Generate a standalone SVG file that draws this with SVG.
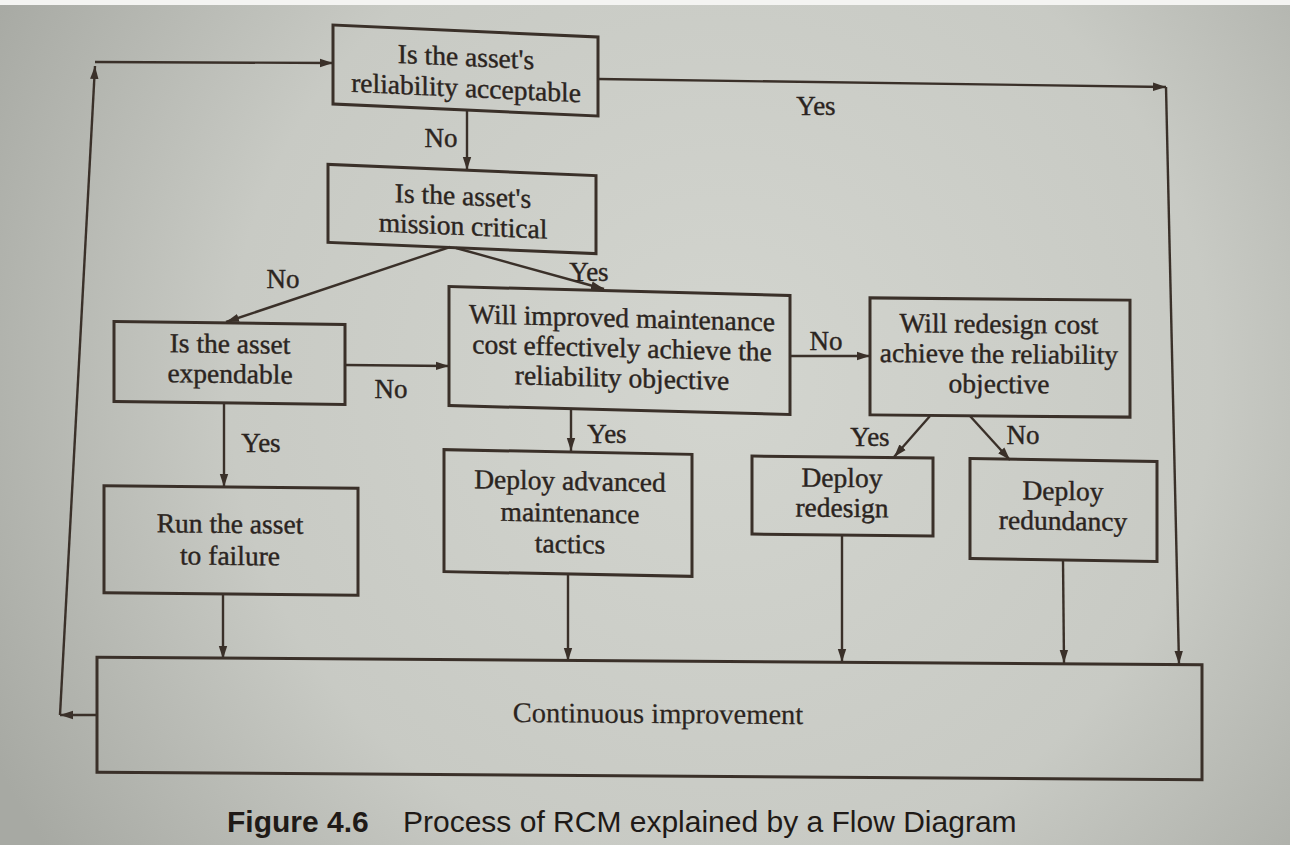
<svg xmlns="http://www.w3.org/2000/svg" width="1290" height="845" viewBox="0 0 1290 845">
  <defs>
    <radialGradient id="paper" cx="720" cy="380" r="820" gradientUnits="userSpaceOnUse">
      <stop offset="0" stop-color="#d3d5cf"/>
      <stop offset="0.6" stop-color="#c8cac4"/>
      <stop offset="1" stop-color="#a7a9a3"/>
    </radialGradient>
    <marker id="arrow" markerUnits="userSpaceOnUse" markerWidth="14" markerHeight="10" refX="13" refY="5" orient="auto">
      <path d="M0,0.8 L13,5 L0,9.2 z" fill="#3a3029"/>
    </marker>
    <style>
      .box { fill: none; stroke: #3a3029; stroke-width: 3; }
      .node text { font-family: "Liberation Serif", "Times New Roman", serif; font-size: 27.5px; fill: #2b2420; stroke: #2b2420; stroke-width: 0.4; text-anchor: middle; }
      .edge { fill: none; stroke: #3a3029; stroke-width: 2.4; }
      .arr { marker-end: url(#arrow); }
      .lbl { font-family: "Liberation Serif", "Times New Roman", serif; font-size: 27px; fill: #2b2420; stroke: #2b2420; stroke-width: 0.4; text-anchor: middle; }
      .cap { font-family: "Liberation Sans", Arial, sans-serif; font-size: 30px; fill: #1f1a17; }
    </style>
  </defs>

  <!-- page -->
  <rect x="0" y="0" width="1290" height="845" fill="url(#paper)"/>
  <rect x="0" y="0" width="1290" height="5" fill="#f4f4f2"/>

  <!-- connectors -->
  <g id="connectors">
    <path class="edge arr" d="M467,110 L467,170"/>
    <path class="edge arr" d="M450,247 L226,322"/>
    <path class="edge arr" d="M456,248 L604,289"/>
    <path class="edge arr" d="M345,365 L449,366"/>
    <path class="edge arr" d="M224,403 L224,487"/>
    <path class="edge arr" d="M790,356 L870,356"/>
    <path class="edge arr" d="M571,409 L571,451"/>
    <path class="edge arr" d="M930,416 L894,457"/>
    <path class="edge arr" d="M970,416 L1010,460"/>
    <!-- Yes branch from the first decision down to the last box -->
    <path class="edge arr" d="M598,79 L1166,87"/>
    <path class="edge arr" d="M1166,87 L1179,664"/>
    <!-- outputs into continuous improvement -->
    <path class="edge arr" d="M223,594 L223,659"/>
    <path class="edge arr" d="M568,574 L568,661"/>
    <path class="edge arr" d="M842,535 L842,662"/>
    <path class="edge arr" d="M1063,560 L1064,663"/>
    <!-- feedback loop -->
    <path class="edge arr" d="M97,715 L60,715"/>
    <path class="edge arr" d="M60,715 L95,66"/>
    <path class="edge arr" d="M95,62 L333,63"/>
    <!-- branch labels -->
    <text class="lbl" x="441" y="147">No</text>
    <text class="lbl" x="283" y="288">No</text>
    <text class="lbl" x="589" y="281">Yes</text>
    <text class="lbl" x="391" y="398">No</text>
    <text class="lbl" x="261" y="452">Yes</text>
    <text class="lbl" x="826" y="350">No</text>
    <text class="lbl" x="607" y="443">Yes</text>
    <text class="lbl" x="870" y="446">Yes</text>
    <text class="lbl" x="1023" y="444">No</text>
    <text class="lbl" x="816" y="115">Yes</text>
  </g>

  <g id="reliability-acceptable" class="node" transform="translate(465.5,70) skewY(2.6) translate(-465.5,-70)">
    <rect class="box" x="333" y="31" width="265" height="79"/>
    <text x="466" y="66">Is the asset's</text>
    <text x="466" y="97">reliability acceptable</text>
  </g>

  <g id="mission-critical" class="node" transform="translate(462,209) skewY(2.4) translate(-462,-209)">
    <rect class="box" x="328" y="170" width="268" height="78"/>
    <text x="463" y="205">Is the asset's</text>
    <text x="463" y="235">mission critical</text>
  </g>

  <g id="expendable" class="node" transform="translate(229.5,363) skewY(0.75) translate(-229.5,-363)">
    <rect class="box" x="114" y="323" width="231" height="80"/>
    <text x="230" y="353">Is the asset</text>
    <text x="230" y="383">expendable</text>
  </g>

  <g id="improved-maintenance" class="node" transform="translate(619.5,350) skewY(1.5) translate(-619.5,-350)">
    <rect class="box" x="449" y="291" width="341" height="119"/>
    <text x="622" y="327">Will improved maintenance</text>
    <text x="622" y="357">cost effectively achieve the</text>
    <text x="622" y="387">reliability objective</text>
  </g>

  <g id="redesign-cost" class="node" transform="translate(1000,357) skewY(0.5) translate(-1000,-357)">
    <rect class="box" x="870" y="299" width="260" height="117"/>
    <text x="999" y="333">Will redesign cost</text>
    <text x="999" y="363">achieve the reliability</text>
    <text x="999" y="393">objective</text>
  </g>

  <g id="run-to-failure" class="node" transform="translate(231,540) skewY(0.6) translate(-231,-540)">
    <rect class="box" x="104" y="487" width="254" height="107"/>
    <text x="230" y="533">Run the asset</text>
    <text x="230" y="565">to failure</text>
  </g>

  <g id="advanced-maintenance" class="node" transform="translate(568,513) skewY(1.1) translate(-568,-513)">
    <rect class="box" x="444" y="452" width="248" height="122"/>
    <text x="570" y="490">Deploy advanced</text>
    <text x="570" y="522">maintenance</text>
    <text x="570" y="553">tactics</text>
  </g>

  <g id="deploy-redesign" class="node" transform="translate(842,496) skewY(0.6) translate(-842,-496)">
    <rect class="box" x="752" y="457" width="181" height="78"/>
    <text x="842" y="487">Deploy</text>
    <text x="842" y="517">redesign</text>
  </g>

  <g id="deploy-redundancy" class="node" transform="translate(1063,510) skewY(0.9) translate(-1063,-510)">
    <rect class="box" x="970" y="460" width="187" height="100"/>
    <text x="1063" y="500">Deploy</text>
    <text x="1063" y="530">redundancy</text>
  </g>

  <g id="continuous-improvement" class="node" transform="translate(650,718) skewY(0.4) translate(-650,-718)">
    <rect class="box" x="97" y="661" width="1105" height="115"/>
    <text x="658" y="723" style="font-size:28.5px; stroke-width:0.2">Continuous improvement</text>
  </g>

  <!-- caption -->
  <text class="cap" x="227" y="832"><tspan font-weight="bold">Figure 4.6</tspan><tspan x="403">Process of RCM explained by a Flow Diagram</tspan></text>
</svg>
